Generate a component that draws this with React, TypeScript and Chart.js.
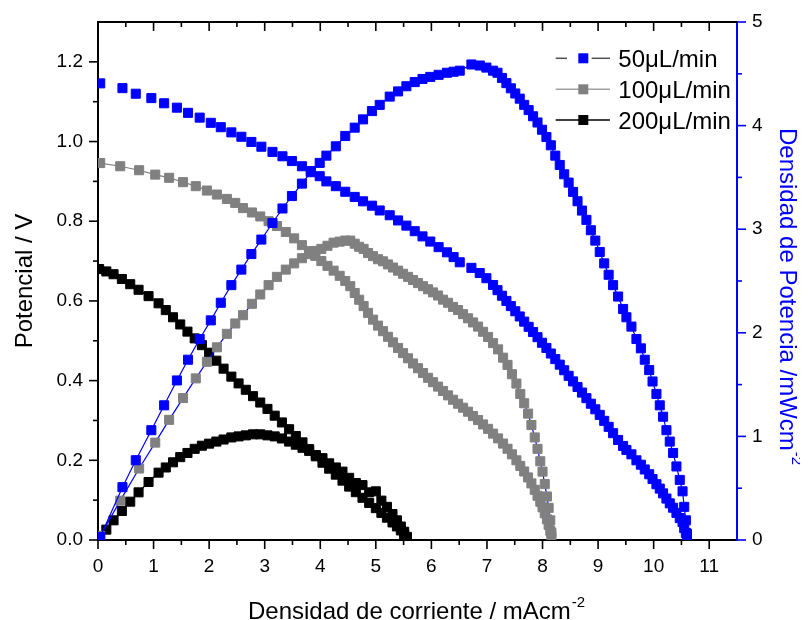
import React, { useEffect, useRef } from 'react';
import { Chart, registerables } from 'chart.js';

Chart.register(...registerables);

// ---------- data ----------
// 50 µL/min
const cur50 = [0.04, 0.44, 0.68, 0.96, 1.19, 1.42, 1.62, 1.83, 2.03, 2.21,
  2.40, 2.58, 2.76, 2.94, 3.14, 3.32, 3.49, 3.67, 3.83, 3.99,
  4.11, 4.28, 4.45, 4.62, 4.77, 4.93, 5.07, 5.25, 5.40, 5.55,
  5.70, 5.84, 5.98, 6.13, 6.28, 6.40, 6.51, 6.72, 6.87, 6.99,
  7.11, 7.19, 7.27, 7.35, 7.43, 7.51, 7.59, 7.67, 7.75, 7.83,
  7.91, 7.99, 8.07, 8.15, 8.23, 8.31, 8.39, 8.47, 8.55, 8.63,
  8.71, 8.79, 8.87, 8.95, 9.03, 9.11, 9.19, 9.27, 9.36, 9.45,
  9.51, 9.60, 9.69, 9.77, 9.84, 9.92, 9.98, 10.05, 10.11, 10.17,
  10.23, 10.29, 10.35, 10.41, 10.47, 10.52, 10.55, 10.58, 10.60];
const pot50 = [1.146, 1.134, 1.120, 1.109, 1.096, 1.085, 1.072, 1.060, 1.047, 1.036,
  1.023, 1.012, 0.999, 0.987, 0.974, 0.963, 0.951, 0.938, 0.926, 0.913,
  0.900, 0.888, 0.874, 0.861, 0.850, 0.839, 0.827, 0.815, 0.802, 0.789,
  0.775, 0.762, 0.749, 0.735, 0.722, 0.710, 0.697, 0.683, 0.670, 0.657,
  0.640, 0.627, 0.613, 0.600, 0.587, 0.574, 0.561, 0.548, 0.535, 0.522,
  0.509, 0.495, 0.482, 0.468, 0.454, 0.440, 0.426, 0.412, 0.398, 0.384,
  0.370, 0.356, 0.342, 0.328, 0.314, 0.299, 0.284, 0.268, 0.251, 0.236,
  0.226, 0.215, 0.200, 0.189, 0.177, 0.165, 0.153, 0.140, 0.129, 0.117,
  0.104, 0.092, 0.081, 0.068, 0.055, 0.045, 0.030, 0.018, 0.006];
const pow50 = [0.03, 0.51, 0.77, 1.06, 1.30, 1.54, 1.74, 1.94, 2.12, 2.29,
  2.46, 2.61, 2.76, 2.90, 3.06, 3.20, 3.32, 3.44, 3.55, 3.64,
  3.71, 3.80, 3.90, 3.98, 4.06, 4.14, 4.20, 4.28, 4.33, 4.38,
  4.42, 4.45, 4.47, 4.49, 4.51, 4.52, 4.53, 4.59, 4.58, 4.56,
  4.53, 4.51, 4.46, 4.41, 4.36, 4.31, 4.26, 4.20, 4.15, 4.09,
  4.03, 3.96, 3.89, 3.81, 3.71, 3.62, 3.53, 3.45, 3.36, 3.27,
  3.18, 3.09, 2.99, 2.89, 2.78, 2.67, 2.56, 2.46, 2.35, 2.23,
  2.15, 2.06, 1.94, 1.85, 1.74, 1.64, 1.53, 1.41, 1.30, 1.19,
  1.06, 0.95, 0.84, 0.71, 0.58, 0.47, 0.32, 0.19, 0.06];

// 100 µL/min
const cur100 = [0.04, 0.40, 0.74, 1.03, 1.28, 1.53, 1.76, 1.96, 2.14, 2.32,
  2.47, 2.61, 2.77, 2.92, 3.07, 3.22, 3.38, 3.53, 3.67, 3.80,
  3.91, 4.02, 4.13, 4.24, 4.35, 4.45, 4.54, 4.62, 4.70, 4.78,
  4.86, 4.95, 5.04, 5.13, 5.22, 5.31, 5.40, 5.49, 5.58, 5.67,
  5.76, 5.85, 5.94, 6.03, 6.12, 6.21, 6.30, 6.39, 6.48, 6.57,
  6.66, 6.75, 6.84, 6.93, 7.02, 7.11, 7.20, 7.29, 7.37, 7.45,
  7.53, 7.60, 7.67, 7.74, 7.80, 7.86, 7.91, 7.96, 8.00, 8.04,
  8.08, 8.11, 8.14, 8.16];
const pot100 = [0.946, 0.938, 0.928, 0.917, 0.909, 0.898, 0.888, 0.877, 0.867, 0.856,
  0.846, 0.833, 0.822, 0.812, 0.800, 0.788, 0.773, 0.757, 0.740, 0.725,
  0.713, 0.700, 0.688, 0.676, 0.663, 0.650, 0.637, 0.620, 0.603, 0.587,
  0.570, 0.553, 0.538, 0.524, 0.510, 0.496, 0.482, 0.469, 0.456, 0.443,
  0.431, 0.419, 0.407, 0.396, 0.385, 0.374, 0.363, 0.352, 0.342, 0.332,
  0.322, 0.311, 0.301, 0.290, 0.279, 0.267, 0.255, 0.242, 0.229, 0.215,
  0.200, 0.186, 0.172, 0.157, 0.142, 0.126, 0.111, 0.096, 0.082, 0.067,
  0.052, 0.038, 0.023, 0.008];
const pow100 = [0.04, 0.38, 0.69, 0.94, 1.16, 1.37, 1.56, 1.72, 1.86, 1.99,
  2.09, 2.17, 2.28, 2.37, 2.46, 2.54, 2.61, 2.67, 2.72, 2.76,
  2.79, 2.81, 2.84, 2.87, 2.88, 2.89, 2.89, 2.86, 2.83, 2.81,
  2.77, 2.74, 2.71, 2.69, 2.66, 2.63, 2.60, 2.57, 2.54, 2.51,
  2.48, 2.45, 2.42, 2.39, 2.36, 2.32, 2.29, 2.25, 2.22, 2.18,
  2.14, 2.10, 2.06, 2.01, 1.96, 1.90, 1.84, 1.76, 1.69, 1.60,
  1.51, 1.41, 1.32, 1.22, 1.11, 0.99, 0.88, 0.76, 0.66, 0.54,
  0.42, 0.31, 0.19, 0.07];

// 200 µL/min
const cur200 = [0.02, 0.15, 0.28, 0.43, 0.58, 0.73, 0.91, 1.09, 1.22, 1.35,
  1.48, 1.61, 1.74, 1.87, 2.00, 2.13, 2.26, 2.40, 2.53, 2.66,
  2.79, 2.92, 3.05, 3.18, 3.31, 3.44, 3.56, 3.68, 3.80, 3.92,
  4.04, 4.16, 4.28, 4.40, 4.52, 4.64, 4.76, 4.88, 5.00, 5.10,
  5.20, 5.30, 5.38, 5.45, 5.51, 5.56];
const pot200 = [0.680, 0.674, 0.667, 0.655, 0.642, 0.628, 0.612, 0.594, 0.577, 0.559,
  0.541, 0.523, 0.506, 0.489, 0.470, 0.450, 0.430, 0.410, 0.393, 0.377,
  0.361, 0.345, 0.329, 0.312, 0.295, 0.278, 0.261, 0.245, 0.228, 0.210,
  0.194, 0.179, 0.164, 0.149, 0.134, 0.120, 0.106, 0.093, 0.080, 0.068,
  0.056, 0.044, 0.034, 0.024, 0.014, 0.005];
const pow200 = [0.01, 0.10, 0.19, 0.28, 0.37, 0.46, 0.56, 0.65, 0.70, 0.75,
  0.80, 0.84, 0.88, 0.91, 0.93, 0.95, 0.97, 0.99, 1.00, 1.01,
  1.02, 1.02, 1.01, 1.00, 0.98, 0.95, 0.92, 0.89, 0.86, 0.82,
  0.79, 0.74, 0.70, 0.66, 0.60, 0.55, 0.53, 0.46, 0.47, 0.38,
  0.32, 0.25, 0.19, 0.13, 0.08, 0.03];

// axis ticks & labels
const xTickValues = [0, 1, 2, 3, 4, 5, 6, 7, 8, 9, 10, 11];
const yTickValues = [0, 0.2, 0.4, 0.6, 0.8, 1.0, 1.2];
const y2TickValues = [0, 1, 2, 3, 4, 5];
const legendLabels = ['50\u03BCL/min', '100\u03BCL/min', '200\u03BCL/min'];
const xTitle = 'Densidad de corriente / mAcm';
const yTitle = 'Potencial / V';
const y2Title = 'Densidad de Potencia /mWcm';
const supText = '-2';

// ---------- styles ----------
const FONT = "'Liberation Sans', Arial, sans-serif";
const BLUE = '#0000ff';
const GRAY = '#808080';
const BLACK = '#000000';

const pts = (xs: number[], ys: number[]) => xs.map((x, i) => ({ x, y: ys[i] }));

function series(data: any, axis: string, markerColor: string, lineColor: string, showLine: boolean) {
  return {
    data,
    yAxisID: axis,
    xAxisID: 'x',
    showLine,
    borderColor: lineColor,
    backgroundColor: markerColor,
    borderWidth: 1.2,
    pointStyle: 'rect',
    pointRadius: 6.4,
    pointBorderWidth: 1,
    pointBackgroundColor: markerColor,
    pointBorderColor: markerColor,
    tension: 0,
    fill: false,
  };
}

function drawWithSup(ctx: CanvasRenderingContext2D, main: string, sup: string, x: number, y: number) {
  ctx.font = `24px ${FONT}`;
  ctx.textAlign = 'left';
  ctx.textBaseline = 'alphabetic';
  ctx.fillText(main, x, y);
  const w = ctx.measureText(main).width;
  ctx.font = `15px ${FONT}`;
  ctx.fillText(sup, x + w + 1, y - 12);
}

const decor = {
  id: 'decor',
  afterDraw(chart: any) {
    const { ctx, chartArea: a, scales } = chart;
    const sx = scales.x, sy = scales.y, sy2 = scales.y2;
    ctx.save();
    ctx.strokeStyle = BLACK;
    ctx.lineWidth = 2;
    ctx.beginPath();
    ctx.moveTo(a.left - 1, a.top);
    ctx.lineTo(a.right, a.top);
    ctx.stroke();
    const tick = (x1: number, y1: number, x2: number, y2: number) => {
      ctx.beginPath();
      ctx.moveTo(x1, y1);
      ctx.lineTo(x2, y2);
      ctx.stroke();
    };
    ctx.lineWidth = 1.6;
    xTickValues.forEach((v) => {
      const p = sx.getPixelForValue(v);
      tick(p, a.bottom, p, a.bottom + 9);
      tick(p, a.top, p, a.top + 9);
      const m = v + 0.5;
      if (m < 11.5) {
        const pm = sx.getPixelForValue(m);
        tick(pm, a.bottom, pm, a.bottom + 5);
        tick(pm, a.top, pm, a.top + 5);
      }
    });
    yTickValues.forEach((v) => {
      const p = sy.getPixelForValue(v);
      tick(a.left, p, a.left - 9, p);
      const m = v + 0.1;
      if (m < 1.3) {
        const pm = sy.getPixelForValue(m);
        tick(a.left, pm, a.left - 5, pm);
      }
    });
    ctx.strokeStyle = BLUE;
    y2TickValues.forEach((v) => {
      const p = sy2.getPixelForValue(v);
      tick(a.right, p, a.right + 9, p);
      const m = v + 0.5;
      if (m < 5) {
        const pm = sy2.getPixelForValue(m);
        tick(a.right, pm, a.right + 5, pm);
      }
    });

    ctx.fillStyle = BLACK;
    drawWithSup(ctx, xTitle, supText, 240, 611);

    ctx.save();
    ctx.translate(24, (a.top + a.bottom) / 2);
    ctx.rotate(-Math.PI / 2);
    ctx.font = `24px ${FONT}`;
    ctx.textAlign = 'center';
    ctx.textBaseline = 'alphabetic';
    ctx.fillText(yTitle, 0, 0);
    ctx.restore();

    ctx.save();
    ctx.fillStyle = BLUE;
    ctx.translate(772, 120);
    ctx.rotate(Math.PI / 2);
    drawWithSup(ctx, y2Title, supText, 0, 0);
    ctx.restore();

    const rows = [50.3, 81.3, 112];
    const markers = [BLUE, GRAY, BLACK];
    const lines = ['#505050', '#a0a0a0', BLACK];
    rows.forEach((ry, i) => {
      ctx.strokeStyle = lines[i];
      ctx.lineWidth = 1.5;
      if (i === 0) {
        tick(547.7, ry, 559, ry);
        tick(583.7, ry, 602, ry);
      } else {
        tick(547.7, ry, 602, ry);
      }
      ctx.fillStyle = markers[i];
      ctx.fillRect(575.3 - 5, ry - 5, 10, 10);
      ctx.fillStyle = BLACK;
      ctx.font = `24px ${FONT}`;
      ctx.textAlign = 'left';
      ctx.textBaseline = 'alphabetic';
      ctx.fillText(legendLabels[i], 610.3, ry + 8.6);
    });
    ctx.restore();
  },
};

const tickFont = { family: FONT, size: 19 };

export default function App() {
  const ref = useRef<HTMLCanvasElement>(null);
  useEffect(() => {
    if (!ref.current) return;
    const chart = new Chart(ref.current, {
      type: 'line',
      data: {
        datasets: [
          series(pts(cur50, pot50), 'y', BLUE, BLUE, false),
          series(pts(cur50, pow50), 'y2', BLUE, BLUE, true),
          series(pts(cur100, pot100), 'y', GRAY, GRAY, true),
          series(pts(cur100, pow100), 'y2', GRAY, BLUE, true),
          series(pts(cur200, pot200), 'y', BLACK, BLACK, true),
          series(pts(cur200, pow200), 'y2', BLACK, BLACK, true),
        ] as any,
      },
      options: {
        animation: false,
        responsive: false,
        maintainAspectRatio: false,
        layout: { padding: { top: 14, left: 0, right: 0, bottom: 0 } },
        plugins: { legend: { display: false }, tooltip: { enabled: false } },
        scales: {
          x: {
            type: 'linear',
            position: 'bottom',
            min: 0,
            max: 11.5,
            afterFit: (s: any) => { s.height = 80; },
            afterBuildTicks: (s: any) => { s.ticks = xTickValues.map((v) => ({ value: v })); },
            grid: { display: false, drawTicks: true, tickLength: 15 },
            border: { display: true, color: BLACK, width: 2 },
            ticks: { padding: 0, color: BLACK, font: tickFont, maxRotation: 0, autoSkip: false, callback: (v: any) => String(v) },
          },
          y: {
            type: 'linear',
            position: 'left',
            min: 0,
            max: 1.3,
            afterFit: (s: any) => { s.width = 90; },
            afterBuildTicks: (s: any) => { s.ticks = yTickValues.map((v) => ({ value: v })); },
            grid: { display: false, drawTicks: true, tickLength: 15 },
            border: { display: true, color: BLACK, width: 2 },
            ticks: { padding: 0, color: BLACK, font: tickFont, autoSkip: false, callback: (v: any) => Number(v).toFixed(1) },
          },
          y2: {
            type: 'linear',
            position: 'right',
            min: 0,
            max: 5,
            afterFit: (s: any) => { s.width = 63; },
            afterBuildTicks: (s: any) => { s.ticks = y2TickValues.map((v) => ({ value: v })); },
            grid: { display: false, drawTicks: true, tickLength: 15 },
            border: { display: true, color: BLUE, width: 2 },
            ticks: { padding: 0, color: BLACK, font: tickFont, autoSkip: false, callback: (v: any) => String(v) },
          },
        },
      } as any,
      plugins: [decor],
    });
    return () => chart.destroy();
  }, []);
  return (
    <div style={{ width: 792, height: 612 }}>
      <canvas ref={ref} width={792} height={612} style={{ display: 'block' }} />
    </div>
  );
}
